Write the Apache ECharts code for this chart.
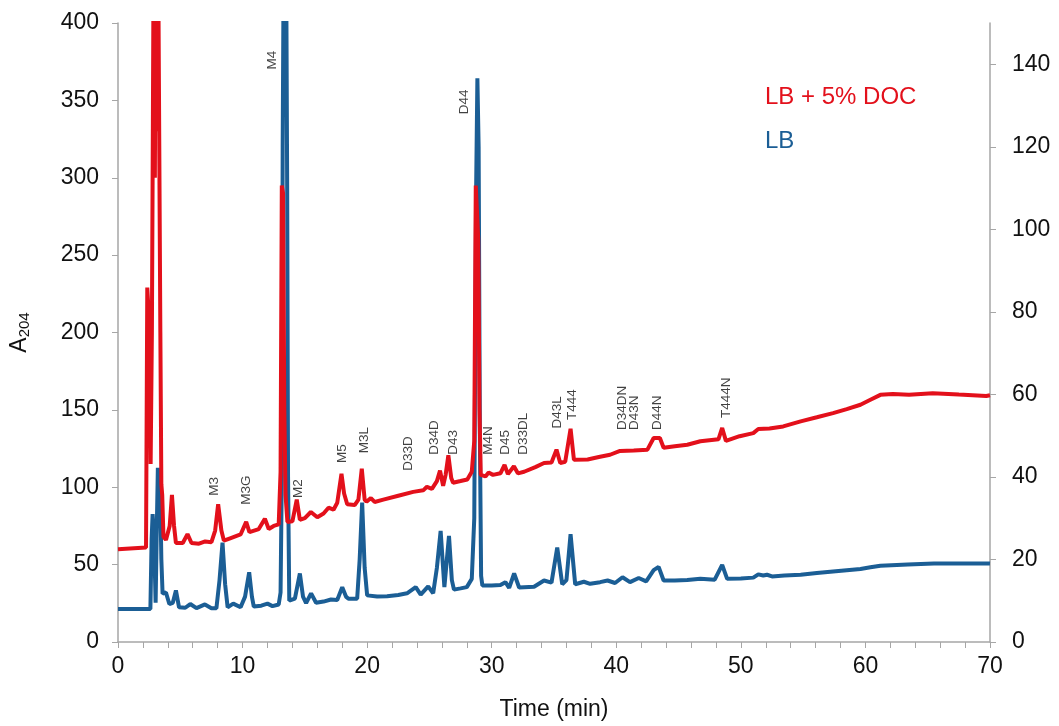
<!DOCTYPE html>
<html>
<head>
<meta charset="utf-8">
<script src="https://cdn.jsdelivr.net/npm/echarts@6/dist/echarts.min.js"></script>
<style>html,body{margin:0;padding:0;background:#fff}#c{width:1059px;height:726px}</style>
</head>
<body>
<div id="c"></div>
<script>
// LB + 5% DOC (left axis, A204)
const redTime = [0,2.25,2.35,2.45,2.55,2.62,2.72,2.8,2.88,2.96,3.04,3.12,3.2,3.3,3.4,3.48,3.55,3.65,3.85,4.15,4.33,4.5,4.65,5.2,5.58,5.9,6.5,7.0,7.5,7.8,8.04,8.3,8.5,9.0,9.84,10.29,10.55,11.3,11.79,12.1,12.5,12.9,13.05,13.15,13.25,13.35,13.45,13.6,14.0,14.35,14.6,15.0,15.48,16.0,16.5,16.9,17.3,17.6,17.94,18.15,18.4,19.0,19.3,19.57,19.8,19.95,20.3,20.6,21.3,22.5,23.7,24.5,24.8,25.2,25.6,25.85,26.1,26.3,26.52,26.75,26.9,27.5,28.04,28.4,28.6,28.72,28.82,28.92,29.02,29.12,29.25,29.5,29.75,30.1,30.7,31.03,31.3,31.78,32.1,32.6,33.5,34.2,34.8,35.2,35.5,35.9,36.33,36.6,37.7,38.6,39.5,40.3,41.4,42.5,43.0,43.5,43.8,44.7,45.7,46.75,48.2,48.5,48.8,49.9,51.0,51.4,52.3,53.4,54.8,56.1,57.4,58.5,59.6,60.4,61.2,62.2,63.5,65.4,67.5,69.7,70];
const redA204 = [60,61,229,229,200,115,200,336,480,300,480,330,480,480,200,102,95,68,66,75,95,75,64,64,69.7,64,63.5,65,64.5,72,89,72,65.5,67,69.5,77.6,71,73,79.7,73,75,76,110,295,290,150,95,77.6,78,92,79,80,84,80.6,83,86.8,85.5,90,108.7,96,89,88.5,92,112,92,90.6,93,90.5,92,94.5,97,98,100.3,99,104,110.8,100.9,108,120.7,106,102.9,104,105,110,130,295,295,260,150,108,107.3,107,109.5,108,109,114.4,108.5,113.6,109,110,113,115.7,116,124.3,115.7,116.5,137.8,117.8,117.9,119.5,121,123.5,123.8,124.3,131.8,131.8,125.5,126.5,127.5,129.7,131,138.3,130,133,135,137.6,138,139.3,142.6,145.2,147.9,150.5,153.3,156.5,159.7,160.2,159.8,160.8,159.9,159,159.5];

// LB (right axis)
const blueTime = [0,2.6,2.7,2.78,2.9,3.02,3.1,3.2,3.3,3.39,3.48,3.58,3.85,4.12,4.4,4.65,4.9,5.4,5.8,6.3,6.98,7.5,7.9,8.15,8.39,8.6,8.8,9.25,9.84,10.2,10.53,10.75,10.9,11.5,12.0,12.4,12.9,13.05,13.15,13.22,13.3,13.5,13.58,13.65,13.75,14.2,14.6,14.85,15.1,15.5,15.9,16.5,17.1,17.6,18.0,18.3,18.5,19.2,19.4,19.6,19.8,20.0,20.8,21.6,22.5,23.2,23.9,24.3,24.9,25.3,25.6,25.9,26.2,26.4,26.57,26.8,26.97,27.5,28.0,28.4,28.6,28.75,28.85,28.95,29.05,29.15,29.25,30.0,30.7,31.1,31.4,31.8,32.2,33.4,34.2,34.8,35.26,35.66,36.0,36.33,36.7,37.4,37.9,38.7,39.3,39.9,40.5,41.1,41.8,42.4,43.0,43.4,43.8,44.7,45.7,46.75,47.9,48.5,48.9,50.0,51.0,51.4,51.8,52.1,52.5,53.5,54.8,56.1,57.4,58.5,59.6,60.4,61.2,63.4,65.5,67.6,69.7,70];
const blueVal = [8.0,8.0,25,31,25,9.5,25,42.2,38,36.6,20,11.7,12,9.2,9.5,12.5,8.4,8.3,9.2,8.2,9.1,8.2,8.2,15,24.1,14,8.4,9.3,8.4,11,16.9,11,8.6,8.8,9.3,8.7,9.1,12,40,120,165,165,110,40,10,10.5,16.6,11,9.4,11.8,9.5,9.8,10.3,10.2,13.3,11,10.5,10.5,20,33.8,18,11.3,11,11.1,11.4,11.8,13.3,11.5,13.5,11.8,18,26.9,13.3,20,25.7,15,12.7,13,13.3,15.3,30,110,136.6,120,50,16,13.7,13.7,13.8,14.5,13.1,16.6,13.2,13.4,14.9,14.4,22.9,14,15,26.1,14,14.6,14.1,14.5,14.9,14.3,15.7,14.5,15.5,14.7,17.4,18.2,14.9,14.9,15,15.3,15.1,18.7,15.3,15.4,15.6,16.4,16.1,16.3,15.9,16.1,16.3,16.7,17.1,17.4,17.7,18.1,18.5,18.8,19.05,19.0,19.05,19.0];

// peak annotations (time, left-axis level where the label starts)
const peakNames = ['M3','M3G','M4','M2','M5','M3L','D33D','D34D','D43','D44','M4N','D45','D33DL','D43L','T444','D34DN','D43N','D44N','T444N'];
const peakTime  = [7.7,10.27,12.35,14.5,18.0,19.8,23.3,25.4,26.9,27.8,29.7,31.1,32.5,35.3,36.5,40.5,41.45,43.3,48.8];
const peakLevel = [94.5,88.7,370,93,115.7,122,110.6,121,121,341,121,121,121,138,143.4,137,137,137,144.7];

const xTicks = [0,10,20,30,40,50,60,70];

const RED = '#e3101b', BLUE = '#1b5e95';
const FONT = 'Liberation Sans, Arial, sans-serif';
const TXT = '#111';

const chart = echarts.init(document.getElementById('c'));
chart.setOption({
  animation: false,
  backgroundColor: '#fff',
  textStyle: { fontFamily: FONT },
  grid: { left: 117, right: 69, top: 23, bottom: 81 },
  legend: {
    orient: 'vertical', left: 755, top: 80, itemGap: 20,
    icon: 'none', itemWidth: 0, itemHeight: 0,
    selectedMode: false,
    textStyle: { fontSize: 24, fontFamily: FONT },
    data: [
      { name: 'LB + 5% DOC', textStyle: { color: RED } },
      { name: 'LB', textStyle: { color: BLUE } }
    ]
  },
  xAxis: {
    type: 'value', min: xTicks[0], max: xTicks[xTicks.length - 1], interval: 10,
    name: 'Time (min)', nameLocation: 'middle', nameGap: 56,
    nameTextStyle: { fontSize: 23, color: TXT, fontFamily: FONT },
    axisLine: { lineStyle: { color: '#a6a6a6', width: 1.5 } },
    axisTick: { show: true, length: 6, lineStyle: { color: '#a6a6a6' } },
    minorTick: { show: true, splitNumber: 5, length: 6, lineStyle: { color: '#a6a6a6' } },
    axisLabel: { fontSize: 23, color: TXT, margin: 13, fontFamily: FONT },
    splitLine: { show: false }
  },
  yAxis: [
    {
      type: 'value', min: 0, max: 400, interval: 50, position: 'left',
      name: '{a|A}{s|204}', nameLocation: 'middle', nameGap: 86, nameRotate: 90,
      nameTextStyle: {
        color: TXT,
        rich: {
          a: { fontSize: 23, fontFamily: FONT, color: TXT },
          s: { fontSize: 15, fontFamily: FONT, color: TXT, padding: [10, 0, 0, 0] }
        }
      },
      axisLine: { show: true, lineStyle: { color: '#a6a6a6', width: 1.5 } },
      axisTick: { show: true, length: 6, lineStyle: { color: '#a6a6a6' } },
      axisLabel: { fontSize: 23, color: TXT, margin: 19, fontFamily: FONT },
      splitLine: { show: false }
    },
    {
      type: 'value', min: 0, max: 150, interval: 20, position: 'right',
      axisLine: { show: true, lineStyle: { color: '#a6a6a6', width: 1.5 } },
      axisTick: { show: true, length: 6, lineStyle: { color: '#a6a6a6' } },
      axisLabel: { fontSize: 23, color: TXT, margin: 22, showMaxLabel: false, fontFamily: FONT },
      splitLine: { show: false }
    }
  ],
  series: [
    {
      name: 'LB + 5% DOC', type: 'line', yAxisIndex: 0, showSymbol: false, symbol: 'none',
      clip: true, z: 3,
      lineStyle: { color: RED, width: 4 }, itemStyle: { color: RED },
      data: redTime.map((t, i) => [t, redA204[i]])
    },
    {
      name: 'LB', type: 'line', yAxisIndex: 1, showSymbol: false, symbol: 'none',
      clip: true, z: 2,
      lineStyle: { color: BLUE, width: 4 }, itemStyle: { color: BLUE },
      data: blueTime.map((t, i) => [t, blueVal[i]])
    },
    {
      name: 'peaks', type: 'scatter', yAxisIndex: 0, symbolSize: 0, z: 5,
      silent: true,
      label: {
        show: true, rotate: 90, position: [0, 0], align: 'left', verticalAlign: 'middle',
        fontSize: 13.5, color: TXT, fontFamily: FONT,
        formatter: p => p.data[2]
      },
      data: peakNames.map((n, i) => [peakTime[i], peakLevel[i], n])
    }
  ]
});
</script>
</body>
</html>
